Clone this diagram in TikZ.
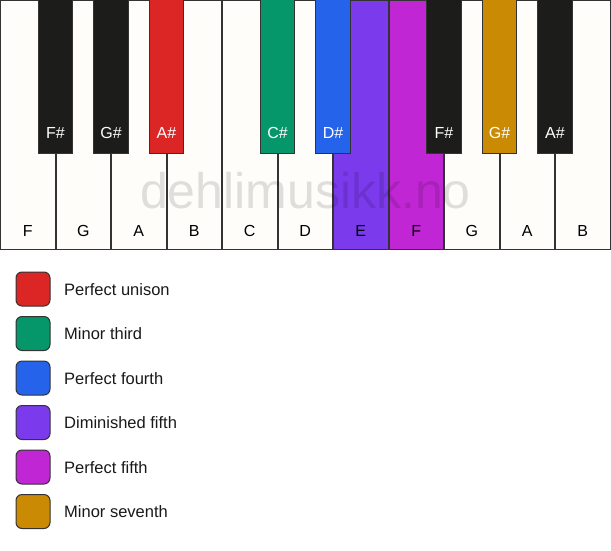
\documentclass[tikz,border=0pt]{standalone}
\usepackage{fontspec}
\setmainfont{Liberation Sans}
\definecolor{whitekey}{HTML}{FFFDFA}
\definecolor{blackkey}{HTML}{1C1C1A}
\definecolor{edge}{HTML}{333333}
\definecolor{cred}{HTML}{DC2626}
\definecolor{cgreen}{HTML}{059669}
\definecolor{cblue}{HTML}{2563EB}
\definecolor{cviolet}{HTML}{7C3AED}
\definecolor{cfuchsia}{HTML}{C026D3}
\definecolor{camber}{HTML}{CA8A04}
\tikzset{
  wkey/.style={draw=edge,line width=1.4pt,fill=whitekey},
  bkey/.style={draw=edge,line width=1pt,fill=blackkey},
  wlab/.style={anchor=base,font=\fontsize{16}{16}\selectfont,text=black,inner sep=0pt},
  blab/.style={anchor=base,font=\fontsize{16}{16}\selectfont,text=white,inner sep=0pt},
  swatch/.style={draw=edge,line width=1pt,rounded corners=6pt,minimum width=34pt,minimum height=34pt,inner sep=0pt},
  leglab/.style={anchor=base west,font=\fontsize{16.5}{16.5}\selectfont,text=black!90,inner sep=0pt},
}
\begin{document}
\begin{tikzpicture}[x=1pt,y=-1pt]
\useasboundingbox (0,0) rectangle (611,550);
\fill[white] (0,0) rectangle (611,550);
% white keys
\foreach \i/\n/\c in {0/F/whitekey,1/G/whitekey,2/A/whitekey,3/B/whitekey,4/C/whitekey,5/D/whitekey,6/E/cviolet,7/F/cfuchsia,8/G/whitekey,9/A/whitekey,10/B/whitekey}{
  \path[wkey,fill=\c] ({\i*55.5+0.7},0.7) rectangle ({(\i+1)*55.5},249.3);
  \node[wlab] (w\i) at ({\i*55.5+27.75},236) {\n};
}
% watermark
\node[anchor=base,font=\fontsize{50}{50}\selectfont,text=black,text opacity=0.12,inner sep=0pt] (wm) at (305.5,208) {dehlimusikk.no};
% black keys
\foreach \j/\x/\n/\c in {0/1/F\#/blackkey,1/2/G\#/blackkey,2/3/A\#/cred,3/5/C\#/cgreen,4/6/D\#/cblue,5/8/F\#/blackkey,6/9/G\#/camber,7/10/A\#/blackkey}{
  \path[bkey,fill=\c] ({\x*55.5-17.3},-1) rectangle ({\x*55.5+17.3},153);
  \node[blab] (b\j) at ({\x*55.5},138.5) {\n};
}
% legend
\foreach \k/\c/\t in {0/cred/Perfect unison,1/cgreen/Minor third,2/cblue/Perfect fourth,3/cviolet/Diminished fifth,4/cfuchsia/Perfect fifth,5/camber/Minor seventh}{
  \node[swatch,fill=\c] (s\k) at (33,{289+\k*44.5}) {};
  \node[leglab] (l\k) at (64,{295+\k*44.5}) {\t};
}
\end{tikzpicture}
\end{document}
